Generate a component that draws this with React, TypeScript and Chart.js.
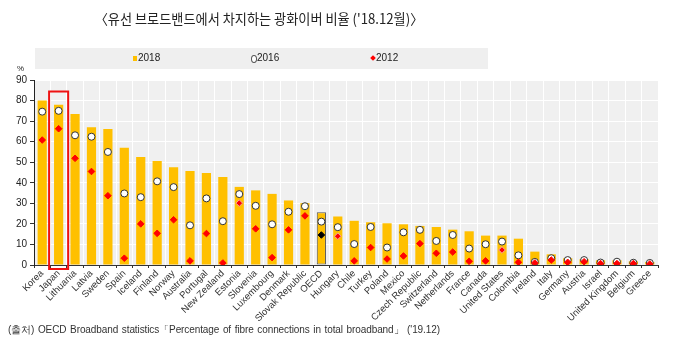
import React, { useEffect, useRef } from "react";
import { Chart, registerables } from "chart.js";

Chart.register(...registerables);

const categories = [
  "Korea", "Japan", "Lithuania", "Latvia", "Sweden", "Spain", "Iceland", "Finland", "Norway", "Australia",
  "Portugal", "New Zealand", "Estonia", "Slovenia", "Luxembourg", "Denmark", "Slovak Republic", "OECD", "Hungary", "Chile",
  "Turkey", "Poland", "Mexico", "Czech Republic", "Switzerland", "Netherlands", "France", "Canada", "United States", "Colombia",
  "Ireland", "Italy", "Germany", "Austria", "Israel", "United Kingdom", "Belgium", "Greece",
];

const values2018 = [
  80.0, 78.0, 73.5, 67.0, 66.2, 57.1, 52.5, 50.6, 47.6, 45.7,
  44.7, 42.8, 38.0, 36.3, 34.6, 31.4, 30.1, 25.7, 23.6, 21.5,
  20.8, 20.3, 19.8, 19.0, 18.5, 17.2, 16.4, 14.3, 14.3, 12.8,
  6.5, 5.2, 3.3, 2.8, 2.3, 2.3, 1.8, 1.5,
];

const values2016 = [
  74.6, 75.0, 63.1, 62.4, 55.0, 34.8, 33.0, 40.7, 37.9, 19.3,
  32.4, 21.3, 34.5, 28.8, 19.8, 25.9, 28.6, 21.1, 18.4, 10.2,
  18.5, 8.5, 15.9, 17.1, 11.7, 14.6, 8.0, 10.1, 11.4, 4.7,
  1.5, 3.3, 2.4, 2.4, 1.2, 1.6, 1.1, 1.0,
];

const values2012 = [
  60.8, 66.3, 51.9, 45.5, 33.7, 3.3, 20.0, 15.4, 22.0, 2.0,
  15.3, 1.0, 30.1, 17.6, 3.6, 17.1, 23.9, 14.6, 14.0, 2.0,
  8.5, 2.9, 4.4, 10.4, 5.7, 6.3, 1.8, 2.0, 7.3, 1.3,
  1.0, 2.4, 1.3, 1.6, 0.7, 0.7, 0.7, 0.5,
];

const yTicks = [0, 10, 20, 30, 40, 50, 60, 70, 80, 90];
const highlighted = "Japan";
const aggregate = "OECD";
const estimated2012 = ["Estonia", "Hungary", "United States"];

const title = "〈유선 브로드밴드에서 차지하는 광화이버 비율 ('18.12월)〉";
const source = "(출처) OECD Broadband statistics「Percentage of fibre connections in total broadband」 ('19.12)";
const seriesNames = ["2018", "2016", "2012"];

export default function App() {
  const ref = useRef<HTMLCanvasElement | null>(null);

  useEffect(() => {
    if (!ref.current) return;
    const bgPlugin = {
      id: "bg",
      beforeDraw(chart: any) {
        const { ctx, chartArea } = chart;
        ctx.save();
        ctx.fillStyle = "#f0f0f0";
        ctx.fillRect(chartArea.left, chartArea.top, chartArea.right - chartArea.left, chartArea.bottom - chartArea.top);
        ctx.restore();
      },
    };
    const boxPlugin = {
      id: "box",
      afterDraw(chart: any) {
        const { ctx } = chart;
        const xs = chart.scales.x;
        const ys = chart.scales.y;
        const idx = categories.indexOf(highlighted);
        const cx = xs.getPixelForValue(idx);
        const half = xs.width / categories.length * 0.58;
        const top = ys.getPixelForValue(84.4);
        const bottom = ys.getPixelForValue(0) + 4;
        ctx.save();
        ctx.strokeStyle = "#ee1111";
        ctx.lineWidth = 2;
        ctx.strokeRect(cx - half, top, half * 2, bottom - top);
        ctx.restore();
      },
    };

    const chart = new Chart(ref.current, {
      type: "bar",
      data: {
        labels: categories,
        datasets: [
          {
            type: "bar",
            label: seriesNames[0],
            data: values2018,
            backgroundColor: "#FFC000",
            borderColor: categories.map((c) => (c === aggregate ? "#555555" : "#FFC000")),
            borderWidth: categories.map((c) => (c === aggregate ? 1 : 0)),
            borderSkipped: false,
            barPercentage: 0.56,
            categoryPercentage: 1,
            order: 3,
          },
          {
            type: "line",
            label: seriesNames[1],
            data: values2016,
            showLine: false,
            pointStyle: "circle",
            pointRadius: 3.5,
            pointBackgroundColor: "#ffffff",
            pointBorderColor: "#333333",
            pointBorderWidth: 1,
            order: 2,
          },
          {
            type: "line",
            label: seriesNames[2],
            data: values2012,
            showLine: false,
            pointStyle: "rectRot",
            pointRadius: 3.3,
            pointBackgroundColor: categories.map((c) => (c === aggregate ? "#000000" : "#ff0000")),
            pointBorderColor: categories.map((c) =>
              c === aggregate ? "#000000" : estimated2012.includes(c) ? "#f5a5a5" : "#ff0000"
            ),
            pointBorderWidth: 1,
            order: 1,
          },
        ],
      },
      options: {
        responsive: false,
        animation: false,
        devicePixelRatio: 1,
        layout: { padding: { left: 0, top: 80, right: 20, bottom: 0 } },
        plugins: {
          legend: { display: false },
          tooltip: { enabled: false },
          title: { display: false },
        },
        scales: {
          x: {
            offset: true,
            grid: { color: "#ffffff", lineWidth: 1, tickColor: "#333333", tickLength: 3, offset: true },
            border: { color: "#333333", width: 1 },
            ticks: {
              autoSkip: false,
              maxRotation: 45,
              minRotation: 45,
              padding: 0,
              color: "#333333",
              font: { family: "'Liberation Sans', Arial, sans-serif", size: 9.5 },
            },
            afterFit: (s: any) => {
              s.height = 82;
            },
          },
          y: {
            min: 0,
            max: 90,
            afterBuildTicks: (s: any) => {
              s.ticks = yTicks.map((v) => ({ value: v }));
            },
            grid: { color: "#ffffff", lineWidth: 1, tickColor: "#333333", tickLength: 4 },
            border: { color: "#222222", width: 1 },
            ticks: {
              padding: 3,
              color: "#222222",
              font: { family: "'Liberation Sans', Arial, sans-serif", size: 10 },
            },
            afterFit: (s: any) => {
              s.width = 34;
            },
          },
        },
      },
      plugins: [bgPlugin, boxPlugin],
    } as any);
    return () => chart.destroy();
  }, []);

  const legendText: React.CSSProperties = {
    position: "absolute",
    top: 52,
    fontFamily: "'Liberation Sans', Arial, sans-serif",
    fontSize: 10,
    color: "#222",
    lineHeight: "12px",
  };

  return (
    <div style={{ position: "absolute", left: 0, top: 0, width: 678, height: 347, background: "#fff", overflow: "hidden" }}>
      <canvas ref={ref} width={678} height={347} style={{ position: "absolute", left: 0, top: 0 }} />
      <div
        style={{
          position: "absolute",
          left: 0,
          top: 7,
          width: 518,
          textAlign: "center",
          fontFamily: "'Noto Sans CJK KR', sans-serif",
          fontSize: 14,
          lineHeight: "22px",
          color: "#222",
          whiteSpace: "nowrap",
          transform: "scaleX(0.94)",
        }}
      >
        {title}
      </div>
      <div style={{ position: "absolute", left: 35, top: 48, width: 453, height: 21, background: "#efefef" }} />
      <div style={{ position: "absolute", left: 133, top: 56, width: 4, height: 5, background: "#FFC000" }} />
      <div style={{ ...legendText, left: 138 }}>{seriesNames[0]}</div>
      <div
        style={{
          position: "absolute",
          left: 251,
          top: 55,
          width: 4,
          height: 6,
          borderRadius: "50%",
          border: "1px solid #555",
          background: "#fff",
        }}
      />
      <div style={{ ...legendText, left: 257 }}>{seriesNames[1]}</div>
      <div
        style={{
          position: "absolute",
          left: 371,
          top: 56,
          width: 4,
          height: 4,
          background: "#ff0000",
          transform: "rotate(45deg)",
        }}
      />
      <div style={{ ...legendText, left: 376 }}>{seriesNames[2]}</div>
      <div
        style={{
          position: "absolute",
          left: 17,
          top: 64,
          fontFamily: "'Liberation Sans', Arial, sans-serif",
          fontSize: 8,
          color: "#222",
        }}
      >
        %
      </div>
      <div
        style={{
          position: "absolute",
          left: 8,
          top: 323,
          fontFamily: "'Liberation Sans', Arial, sans-serif",
          fontSize: 10,
          letterSpacing: -0.1,
          wordSpacing: 1,
          color: "#333",
          whiteSpace: "nowrap",
        }}
      >
        {source}
      </div>
    </div>
  );
}
